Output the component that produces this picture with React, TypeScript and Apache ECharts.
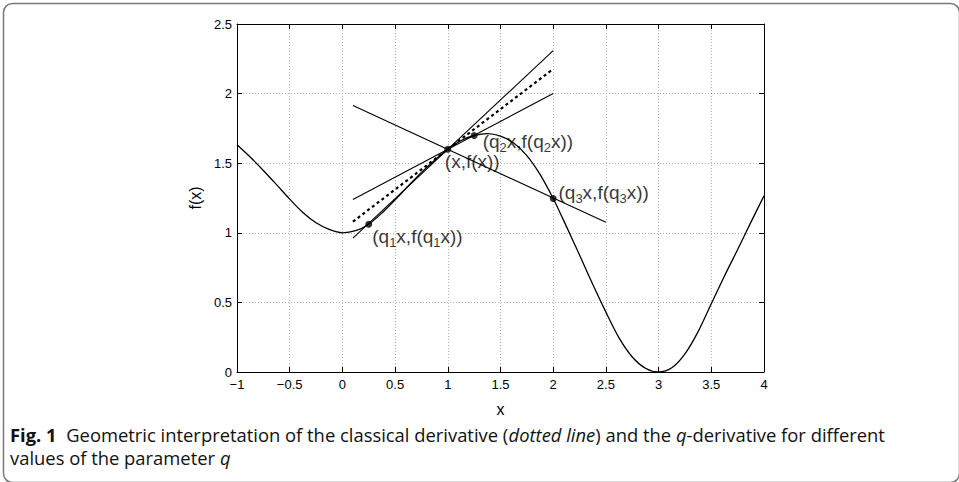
import React, { useEffect, useRef } from "react";
import * as echarts from "echarts";

// ---- data ----
const curveX = [
  -1, -0.875, -0.75, -0.625, -0.5, -0.375, -0.25, -0.125, 0, 0.125, 0.25, 0.375, 0.5, 0.625, 0.75, 0.875, 1,
  1.125, 1.25, 1.375, 1.5, 1.625, 1.75, 1.875, 2, 2.125, 2.25, 2.375, 2.5, 2.625, 2.75, 2.875, 3, 3.125, 3.25,
  3.375, 3.5, 3.625, 3.75, 3.875, 4,
];
const curveY = [
  1.632, 1.544, 1.448, 1.346, 1.242, 1.146, 1.072, 1.024, 1.0, 1.015, 1.062, 1.142, 1.237, 1.337, 1.434, 1.522, 1.6,
  1.663, 1.699, 1.713, 1.695, 1.645, 1.555, 1.42, 1.246, 1.046, 0.84, 0.63, 0.43, 0.245, 0.108, 0.027, 0.0, 0.03, 0.13,
  0.29, 0.49, 0.69, 0.88, 1.075, 1.265,
];
// secant through (x,f(x)) and (q1x,f(q1x))
const secant1 = [[0.1, 0.962], [2, 2.309]];
// secant through (x,f(x)) and (q2x,f(q2x))
const secant2 = [[0.1, 1.24], [2, 2.0]];
// secant through (x,f(x)) and (q3x,f(q3x))
const secant3 = [[0.1, 1.915], [2.5, 1.075]];
// classical tangent (dotted)
const tangent = [[0.1, 1.08], [2, 2.177]];

const pointNames = ["q1", "x", "q2", "q3"];
const pointX = [0.25, 1, 1.25, 2];
const pointY = [1.062, 1.6, 1.699, 1.246];
const pointLabels = [
  "(q{s|1}x,f(q{s|1}x))",
  "(x,f(x))",
  "(q{s|2}x,f(q{s|2}x))",
  "(q{s|3}x,f(q{s|3}x))",
];
const labelOffsets = [
  [0, 12],
  [-6.5, 12.5],
  [5, 6],
  [1.8, -6.2],
];

const xMin = -1, xMax = 4, xStep = 0.5;
const yMin = 0, yMax = 2.5, yStep = 0.5;

const captionLine1 =
  "{b|Fig. 1}  Geometric interpretation of the classical derivative ({i|dotted line}) and the {i|q}-derivative for different";
const captionLine2 = "values of the parameter {i|q}";

const FONT = "'Liberation Sans', Arial, Helvetica, sans-serif";
const CAP_FONT = "'Open Sans', 'Noto Sans', sans-serif";

export default function App() {
  const ref = useRef<HTMLDivElement>(null);
  useEffect(() => {
    if (!ref.current) return;
    const chart = echarts.init(ref.current, undefined, { renderer: "svg" });
    const fmt = (v: number) => String(v).replace("-", "\u2212");
    const black = "#000";
    const lineSeries = (data: number[][], dotted = false) => ({
      type: "line",
      data,
      showSymbol: false,
      silent: true,
      lineStyle: dotted
        ? { color: black, width: 2.2, type: [3, 3] }
        : { color: black, width: 1.1 },
      z: 3,
    });
    const capSize = 18;
    const option: any = {
      animation: false,
      grid: { left: 237, right: 195, top: 24, bottom: 110, containLabel: false },
      xAxis: [
        {
          type: "value",
          min: xMin,
          max: xMax,
          interval: xStep,
          position: "bottom",
          axisLine: { show: true, onZero: false, lineStyle: { color: black, width: 1 } },
          axisTick: { show: true, inside: true, length: 5, lineStyle: { color: black } },
          axisLabel: { color: black, fontSize: 13, fontFamily: FONT, margin: 6, formatter: fmt },
          splitLine: { show: true, lineStyle: { color: "#b4b4b4", width: 1, type: [1, 2] } },
          name: "x",
          nameLocation: "middle",
          nameGap: 29,
          nameTextStyle: { color: black, fontSize: 16, fontFamily: FONT },
        },
        {
          type: "value",
          min: xMin,
          max: xMax,
          interval: xStep,
          position: "top",
          axisLine: { show: true, onZero: false, lineStyle: { color: black, width: 1 } },
          axisTick: { show: true, inside: true, length: 5, lineStyle: { color: black } },
          axisLabel: { show: false },
          splitLine: { show: false },
        },
      ],
      yAxis: [
        {
          type: "value",
          min: yMin,
          max: yMax,
          interval: yStep,
          position: "left",
          axisLine: { show: true, onZero: false, lineStyle: { color: black, width: 1 } },
          axisTick: { show: true, inside: true, length: 5, lineStyle: { color: black } },
          axisLabel: { color: black, fontSize: 13, fontFamily: FONT, margin: 5, formatter: fmt },
          splitLine: { show: true, lineStyle: { color: "#b4b4b4", width: 1, type: [1, 2] } },
          name: "f(x)",
          nameLocation: "middle",
          nameGap: 29,
          nameRotate: 90,
          nameTextStyle: { color: black, fontSize: 16, fontFamily: FONT },
        },
        {
          type: "value",
          min: yMin,
          max: yMax,
          interval: yStep,
          position: "right",
          axisLine: { show: true, onZero: false, lineStyle: { color: black, width: 1 } },
          axisTick: { show: true, inside: true, length: 5, lineStyle: { color: black } },
          axisLabel: { show: false },
          splitLine: { show: false },
        },
      ],
      series: [
        {
          type: "line",
          name: "f",
          data: curveX.map((x, i) => [x, curveY[i]]),
          smooth: 0.3,
          showSymbol: false,
          silent: true,
          lineStyle: { color: black, width: 1.3 },
          z: 3,
        },
        lineSeries(secant1),
        lineSeries(secant2),
        lineSeries(secant3),
        lineSeries(tangent, true),
        {
          type: "scatter",
          symbol: "circle",
          symbolSize: 7,
          itemStyle: { color: black },
          z: 5,
          data: pointX.map((x, i) => ({
            name: pointNames[i],
            value: [x, pointY[i]],
            label: {
              show: true,
              position: "right",
              distance: 0,
              offset: labelOffsets[i],
              formatter: pointLabels[i],
              color: black,
              fontSize: 19,
              fontFamily: FONT,
              lineHeight: 20,
              rich: {
                s: {
                  fontSize: 13,
                  fontFamily: FONT,
                  color: black,
                  lineHeight: 13,
                  padding: [12, 0, 0, 0],
                },
              },
            },
          })),
        },
      ],
      graphic: [
        {
          type: "rect",
          left: 1,
          top: 1,
          shape: { width: 956, height: 479, r: 9 },
          style: { fill: "none", stroke: "#7a7a7a", lineWidth: 1.5 },
          silent: true,
          z: -10,
        },
        {
          type: "text",
          x: 10,
          y: 435,
          scaleX: 1.022,
          style: {
            text: captionLine1,
            fill: "#111",
            fontSize: capSize,
            fontFamily: CAP_FONT,
            verticalAlign: "middle",
            rich: {
              b: { fontWeight: "bold", fontSize: capSize, fontFamily: CAP_FONT, fill: "#111" },
              i: { fontStyle: "italic", fontSize: capSize, fontFamily: CAP_FONT, fill: "#111" },
            },
          },
        },
        {
          type: "text",
          x: 10,
          y: 458,
          scaleX: 1.022,
          style: {
            text: captionLine2,
            fill: "#111",
            fontSize: capSize,
            fontFamily: CAP_FONT,
            verticalAlign: "middle",
            rich: {
              i: { fontStyle: "italic", fontSize: capSize, fontFamily: CAP_FONT, fill: "#111" },
            },
          },
        },
      ],
    };
    chart.setOption(option);
    return () => chart.dispose();
  }, []);
  return (
    <div
      ref={ref}
      style={{ position: "fixed", left: 0, top: 0, width: 959, height: 482, background: "#fff" }}
    />
  );
}
